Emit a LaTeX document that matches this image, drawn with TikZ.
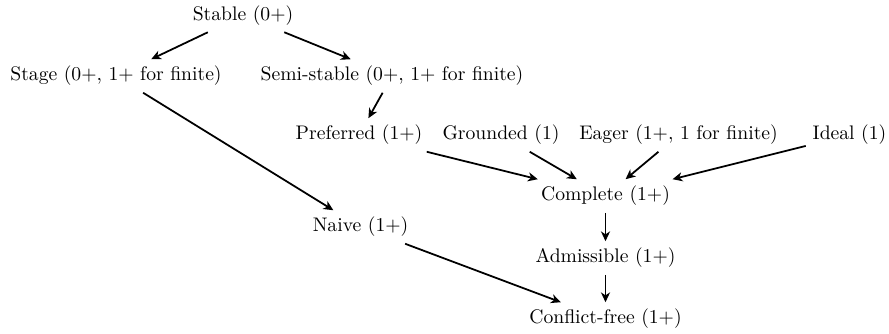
\documentclass[tikz,border=0pt]{standalone}
\usetikzlibrary{arrows.meta}
\begin{document}
\begin{tikzpicture}[x=0.509pt,y=-0.509pt,
  sem/.style={inner sep=0.3333em},
  impl/.style={-{Stealth[length=5pt,width=4.6pt,inset=1.5pt]},line width=0.9pt}]
\useasboundingbox (0,0) rectangle (889,334);
% semantics
\node[sem] (stable)    at (243,15.5) {Stable (0+)};
\node[sem] (stage)     at (116,76)   {Stage (0+, 1+ for finite)};
\node[sem] (semi)      at (392,76)   {Semi-stable (0+, 1+ for finite)};
\node[sem] (preferred) at (359,135)  {Preferred (1+)};
\node[sem] (grounded)  at (501,135)  {Grounded (1)};
\node[sem] (eager)     at (678.5,135){Eager (1+, 1 for finite)};
\node[sem] (ideal)     at (849.5,135){Ideal (1)};
\node[sem] (complete)  at (605.5,196){Complete (1+)};
\node[sem] (naive)     at (360.5,227){Naive (1+)};
\node[sem] (admiss)    at (605.5,258){Admissible (1+)};
\node[sem] (cf)        at (605.5,319){Conflict-free (1+)};
% inclusions
\draw[impl] (stable) -- (stage);
\draw[impl] (stable) -- (semi);
\draw[impl] (stage) -- (naive);
\draw[impl] (semi) -- (preferred);
\draw[impl] (preferred) -- (complete);
\draw[impl] (grounded) -- (complete);
\draw[impl] (eager) -- (complete);
\draw[impl] (ideal) -- (complete);
\draw[impl] (complete) -- (admiss);
\draw[impl] (admiss) -- (cf);
\draw[impl] (naive) -- (cf);
\end{tikzpicture}
\end{document}
